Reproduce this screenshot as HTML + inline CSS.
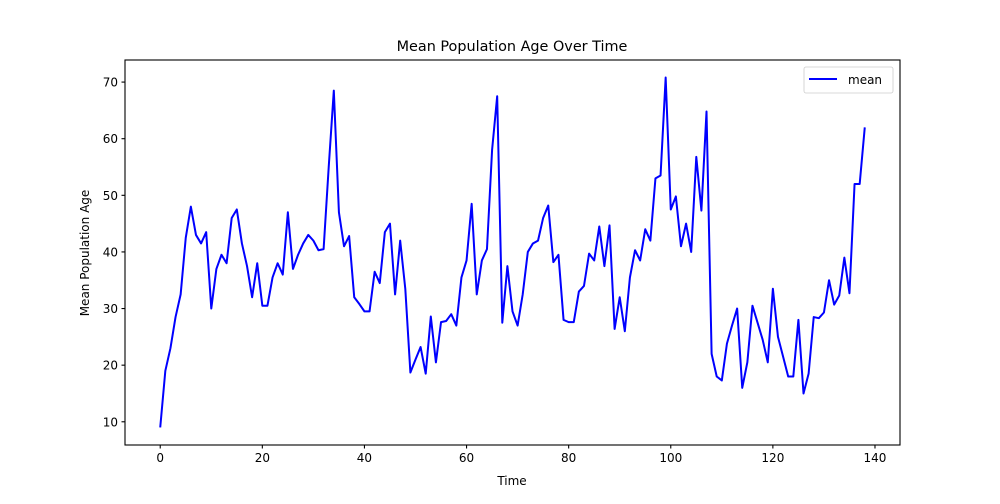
<!DOCTYPE html>
<html><head><meta charset="utf-8"><style>
body{margin:0;background:#fff;font-family:"DejaVu Sans","Liberation Sans",sans-serif}
svg text{font-family:"DejaVu Sans","Liberation Sans",sans-serif;fill:#000}
</style></head><body>
<svg id="chart" width="1000" height="500" xmlns="http://www.w3.org/2000/svg">
<rect width="1000" height="500" fill="#fff"/>
<text x="512" y="51" font-size="14.4" text-anchor="middle">Mean Population Age Over Time</text>
<text x="512" y="485" font-size="12" text-anchor="middle">Time</text>
<text x="0" y="0" font-size="12" text-anchor="middle" transform="translate(89,253) rotate(-90)">Mean Population Age</text>
<g id="ticks"></g>
<polyline id="line" fill="none" stroke="#0000ff" stroke-width="2" stroke-linejoin="round"/>
<rect x="125" y="60" width="775" height="385" fill="none" stroke="#000" stroke-width="1.1"/>
<g>
<rect x="804" y="67" width="89" height="26" rx="2" fill="#fff" stroke="#ccc" stroke-width="0.8"/>
<line x1="809" y1="79" x2="837" y2="79" stroke="#0000ff" stroke-width="2"/>
<text x="848" y="84" font-size="12">mean</text>
</g>
</svg>
<script>
const values=[9,19,23,28.5,32.5,42.5,48,43,41.5,43.5,30,37,39.5,38,46,47.5,41.5,37.5,32,38,30.5,30.5,35.5,38,36,47,37,39.5,41.5,43,42,40.3,40.5,55,68.5,47,41,42.8,32,30.8,29.5,29.5,36.5,34.5,43.5,45,32.5,42,33.5,18.7,21,23.2,18.5,28.6,20.5,27.6,27.8,29,27,35.5,38.5,48.5,32.5,38.5,40.5,58,67.5,27.5,37.5,29.5,27,32.5,40,41.5,42,46,48.2,38.2,39.5,28,27.6,27.6,33,34,39.7,38.5,44.5,37.5,44.7,26.4,32,26,35.5,40.3,38.5,44,42,53,53.5,70.8,47.5,49.8,41,45,40,56.8,47.3,64.8,22,18,17.3,23.8,27,30,16,20.5,30.5,27.5,24.5,20.5,33.5,25,21.5,18,18,28,15,18.5,28.5,28.3,29.3,35,30.7,32.3,39,32.7,52,52,62];
const xTicks=[0,20,40,60,80,100,120,140];
const yTicks=[10,20,30,40,50,60,70];
const X0=125,X1=900,Y0=445,Y1=60;
const xmin=-6.9,xmax=144.9,ymin=5.9,ymax=73.9;
const sx=v=>X0+(v-xmin)/(xmax-xmin)*(X1-X0);
const sy=v=>Y0-(v-ymin)/(ymax-ymin)*(Y0-Y1);
const NS="http://www.w3.org/2000/svg";
document.getElementById('line').setAttribute('points',values.map((v,i)=>sx(i).toFixed(2)+','+sy(v).toFixed(2)).join(' '));
const g=document.getElementById('ticks');
xTicks.forEach(t=>{
 const l=document.createElementNS(NS,'line');
 l.setAttribute('x1',sx(t));l.setAttribute('x2',sx(t));l.setAttribute('y1',Y0);l.setAttribute('y2',Y0+3.5);l.setAttribute('stroke','#000');l.setAttribute('stroke-width','1.1');
 
 
 g.appendChild(l);
 const tx=document.createElementNS(NS,'text');
 tx.setAttribute('x',sx(t));tx.setAttribute('y',Y0+17);tx.setAttribute('font-size','12');tx.setAttribute('text-anchor','middle');tx.textContent=t;
 
 
 g.appendChild(tx);
});
yTicks.forEach(t=>{
 const l=document.createElementNS(NS,'line');
 l.setAttribute('x1',X0-3.5);l.setAttribute('x2',X0);l.setAttribute('y1',sy(t));l.setAttribute('y2',sy(t));l.setAttribute('stroke','#000');l.setAttribute('stroke-width','1.1');
 
 
 g.appendChild(l);
 const tx=document.createElementNS(NS,'text');
 tx.setAttribute('x',X0-7);tx.setAttribute('y',sy(t)+4.5);tx.setAttribute('font-size','12');tx.setAttribute('text-anchor','end');tx.textContent=t;
 
 
 g.appendChild(tx);
});
</script>
</body></html>
